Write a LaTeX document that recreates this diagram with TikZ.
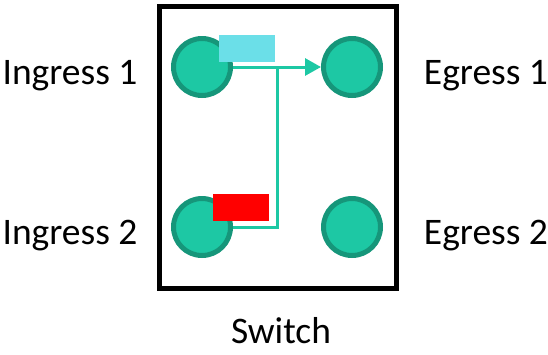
\documentclass[tikz,border=0pt]{standalone}
\usepackage{fontspec}
\setmainfont{Carlito}
\usetikzlibrary{arrows.meta}
\pgfdeclarelayer{edgelayer}
\pgfdeclarelayer{nodelayer}
\pgfsetlayers{edgelayer,nodelayer,main}
\definecolor{portfill}{HTML}{1DC8A4}
\definecolor{portdraw}{HTML}{16967A}
\definecolor{pktblue}{HTML}{6BDFE8}
\tikzstyle{none}=[inner sep=0pt]
\tikzstyle{label}=[inner sep=0pt, anchor=base, font=\fontsize{37.5}{45}\selectfont]
\tikzstyle{port}=[circle, fill=portfill, draw=portdraw, line width=5pt, minimum size=57pt, inner sep=0pt]
\tikzstyle{packet}=[rectangle, inner sep=0pt, minimum width=56pt, minimum height=27pt]
\tikzstyle{link}=[draw=portfill, line width=3pt]
\tikzstyle{switch}=[draw=black, line width=5pt]

\begin{document}
\begin{tikzpicture}[x=1pt, y=-1pt]
			\useasboundingbox (0, 0) rectangle (548, 354);
			\begin{pgfonlayer}{nodelayer}
			\node [style=port] (0) at (202, 67) {};
			\node [style=port] (1) at (352, 67) {};
			\node [style=port] (2) at (202, 227) {};
			\node [style=port] (3) at (352, 227) {};
			\node [style=label] (4) at (70, 84) {Ingress 1};
			\node [style=label] (5) at (486, 84) {Egress 1};
			\node [style=label] (6) at (70, 244) {Ingress 2};
			\node [style=label] (7) at (486, 244) {Egress 2};
			\node [style=label] (8) at (281, 343) {Switch};
			\node [style=none] (9) at (277, 67) {};
			\node [style=packet, fill=pktblue] (10) at (247, 48.5) {};
			\node [style=packet, fill=red] (11) at (241, 207.5) {};
			\end{pgfonlayer}
			\begin{pgfonlayer}{edgelayer}
			\draw [style=switch] (159.5, 6.5) rectangle (396.5, 288.5);
			\draw [style=link, -{Triangle[length=16pt, width=17pt]}] (0) to (1);
			\draw [style=link] (2) -| (9);
			\end{pgfonlayer}
\end{tikzpicture}
\end{document}
